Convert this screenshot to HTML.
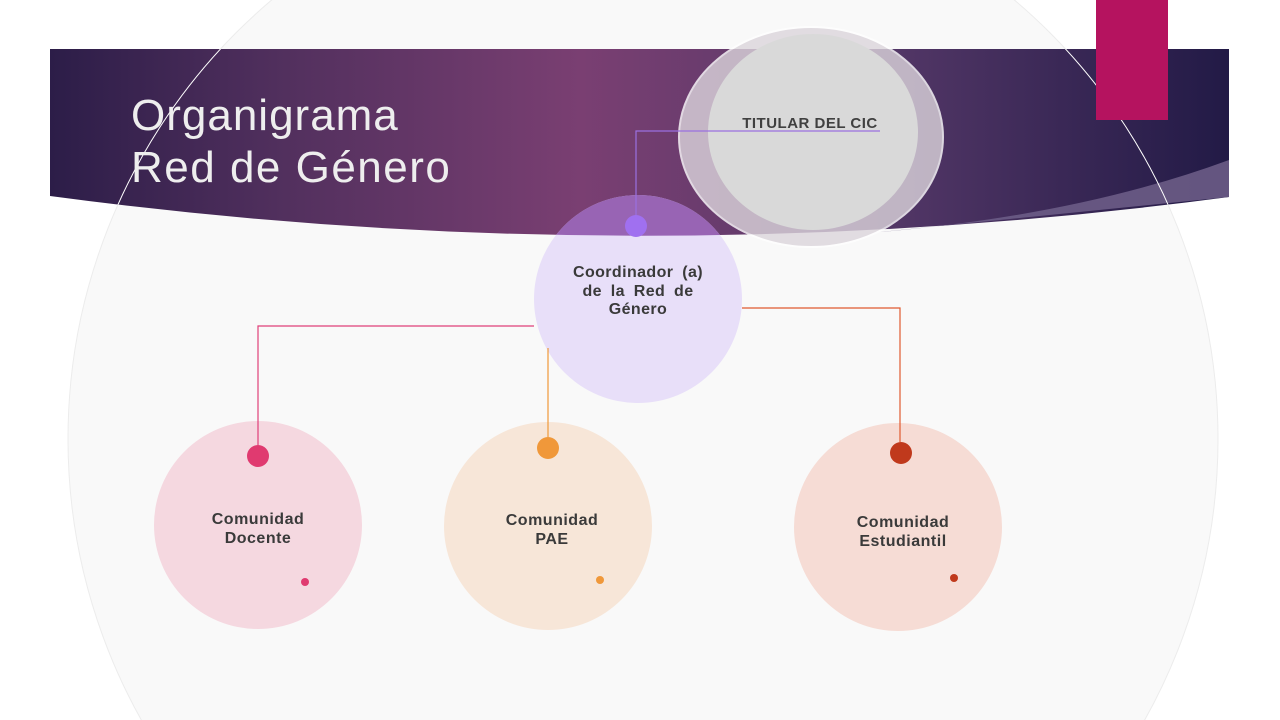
<!DOCTYPE html>
<html><head><meta charset="utf-8"><style>
html,body{margin:0;padding:0;background:#fff;width:1280px;height:720px;overflow:hidden;}
svg{display:block;font-family:"Liberation Sans",sans-serif;}
</style></head><body>
<svg width="1280" height="720" viewBox="0 0 1280 720">
<defs>
<linearGradient id="bg" x1="0" y1="0" x2="1" y2="0">
<stop offset="0" stop-color="#2c1d48"/>
<stop offset="0.2" stop-color="#52305e"/>
<stop offset="0.45" stop-color="#7a3f72"/>
<stop offset="0.7" stop-color="#553868"/>
<stop offset="1" stop-color="#221a46"/>
</linearGradient>
<clipPath id="cb"><path d="M50,49 H1229 V197 Q640,275 50,196 Z"/></clipPath>
</defs>
<circle cx="643" cy="439" r="575" fill="#f9f9f9" stroke="#ececec" stroke-width="1"/>
<path d="M50,49 H1229 V197 Q640,275 50,196 Z" fill="url(#bg)"/>
<path d="M1229,160 Q1080,215 880,232 L1229,197 Z" fill="#6b5c86" opacity="0.9"/>
<circle cx="643" cy="439" r="575" fill="none" stroke="#fff" stroke-width="1" clip-path="url(#cb)"/>
<circle cx="638" cy="299" r="104" fill="#e8dff9"/>
<circle cx="638" cy="299" r="104" fill="#8a4fa8" opacity="0.85" clip-path="url(#cb)"/>
<text x="131" y="130" font-size="44" fill="#eee" letter-spacing="1">Organigrama</text>
<text x="131" y="182" font-size="44" fill="#eee" letter-spacing="1.5">Red de Género</text>
<rect x="1096" y="0" width="72" height="120" fill="#b5135f"/>
<ellipse cx="811" cy="137" rx="132" ry="110" fill="#dcd5dc" opacity="0.8" stroke="#fff" stroke-width="2"/>
<ellipse cx="813" cy="132" rx="105" ry="98" fill="#d9d9d9"/>
<text x="810" y="128" font-size="15" font-weight="bold" fill="#404040" text-anchor="middle" letter-spacing="0.5">TITULAR DEL CIC</text>
<polyline points="636,215 636,131 880,131" fill="none" stroke="#9a70e0" stroke-width="1.2"/>
<circle cx="636" cy="226" r="11" fill="#a070f0"/>
<text font-size="16" font-weight="bold" fill="#3a3a3a" text-anchor="middle" letter-spacing="0.4" word-spacing="4"><tspan x="638" y="277">Coordinador (a)</tspan><tspan x="638" y="296">de la Red de</tspan><tspan x="638" y="314">Género</tspan></text>
<circle cx="258" cy="525" r="104" fill="#f5d8e0"/>
<circle cx="548" cy="526" r="104" fill="#f7e6d8"/>
<circle cx="898" cy="527" r="104" fill="#f6dcd5"/>
<polyline points="258,445 258,326 534,326" fill="none" stroke="#e0407a" stroke-width="1.2"/>
<polyline points="548,437 548,348" fill="none" stroke="#f0983a" stroke-width="1.2"/>
<polyline points="742,308 900,308 900,442" fill="none" stroke="#e05a30" stroke-width="1.2"/>
<circle cx="258" cy="456" r="11" fill="#e03a70"/>
<circle cx="548" cy="448" r="11" fill="#f0983a"/>
<circle cx="901" cy="453" r="11" fill="#c0391c"/>
<circle cx="305" cy="582" r="4" fill="#e03a70"/>
<circle cx="600" cy="580" r="4" fill="#f0983a"/>
<circle cx="954" cy="578" r="4" fill="#c0391c"/>
<g font-size="16" font-weight="bold" fill="#3a3a3a" text-anchor="middle" letter-spacing="0.5">
<text><tspan x="258" y="524">Comunidad</tspan><tspan x="258" y="543">Docente</tspan></text>
<text><tspan x="552" y="525">Comunidad</tspan><tspan x="552" y="544">PAE</tspan></text>
<text><tspan x="903" y="527">Comunidad</tspan><tspan x="903" y="546">Estudiantil</tspan></text>
</g>
</svg>
</body></html>
